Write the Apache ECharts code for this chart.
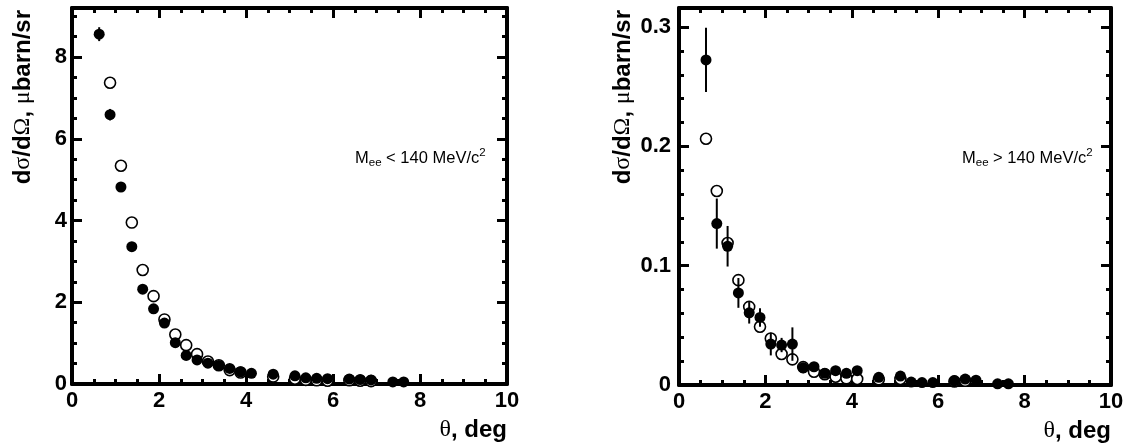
<!DOCTYPE html>
<html><head><meta charset="utf-8">
<script src="https://cdn.jsdelivr.net/npm/echarts@6/dist/echarts.min.js"></script>
<style>html,body{margin:0;padding:0;background:#fff}#c{width:1129px;height:446px}</style>
</head><body><div id="c"></div>
<script>
// ---------- data ----------
// Left panel: M_ee < 140 MeV/c^2   (y in microbarn/sr)
const leftFilledX   = [0.625,0.875,1.125,1.375,1.625,1.875,2.125,2.375,2.625,2.875,3.125,3.375,3.625,3.875,4.125,4.625,5.125,5.375,5.625,5.875,6.375,6.625,6.875,7.375,7.625];
const leftFilledY   = [8.56,6.59,4.82,3.36,2.32,1.84,1.49,1.01,0.70,0.59,0.51,0.45,0.38,0.30,0.26,0.24,0.20,0.15,0.14,0.13,0.12,0.11,0.10,0.05,0.05];
const leftFilledErr = [0.17,0.14,0.11,0.09,0.08,0.07,0.06,0.05,0.04,0.04,0.03,0.03,0.03,0.03,0.02,0.02,0.02,0.02,0.02,0.02,0.02,0.02,0.02,0.02,0.02];
const leftOpenX     = [0.875,1.125,1.375,1.625,1.875,2.125,2.375,2.625,2.875,3.125,3.375,3.625,3.875,4.625,5.125,5.375,5.625,5.875,6.375,6.625,6.875];
const leftOpenY     = [7.37,5.34,3.95,2.79,2.15,1.58,1.21,0.95,0.73,0.55,0.46,0.34,0.28,0.18,0.13,0.10,0.09,0.08,0.09,0.08,0.07];
// Right panel: M_ee > 140 MeV/c^2
const rightFilledX   = [0.625,0.875,1.125,1.375,1.625,1.875,2.125,2.375,2.625,2.875,3.125,3.375,3.625,3.875,4.125,4.625,5.125,5.375,5.625,5.875,6.375,6.625,6.875,7.375,7.625];
const rightFilledY   = [0.2725,0.1353,0.1163,0.0772,0.0605,0.0566,0.0343,0.0335,0.0343,0.0145,0.0153,0.0098,0.0120,0.0098,0.0120,0.0064,0.0075,0.0025,0.0020,0.0020,0.0035,0.0050,0.0040,0.0010,0.0010];
const rightFilledErr = [0.027,0.021,0.017,0.0125,0.009,0.0077,0.0095,0.006,0.014,0.004,0.004,0.003,0.004,0.003,0.003,0.002,0.002,0.002,0.002,0.002,0.002,0.002,0.002,0.001,0.001];
const rightOpenX     = [0.625,0.875,1.125,1.375,1.625,1.875,2.125,2.375,2.625,2.875,3.125,3.375,3.625,3.875,4.125,4.625,5.125,6.375,6.625];
const rightOpenY     = [0.2064,0.1626,0.1190,0.0879,0.0655,0.0488,0.0390,0.0260,0.0215,0.0150,0.0111,0.0090,0.0069,0.0056,0.0050,0.0047,0.0050,0.0030,0.0035];
// tick labels
const xTickLabels      = [0,2,4,6,8,10];
const leftYTickLabels  = [0,2,4,6,8];
const rightYTickLabels = [0,0.1,0.2,0.3];
const leftAnnotation  = ['M','ee',' < 140 MeV/c','2'];
const rightAnnotation = ['M','ee',' > 140 MeV/c','2'];

// ---------- chart ----------
const FONT = "'Liberation Sans', Arial, Helvetica, sans-serif";
const SERIF = "'Liberation Serif', 'DejaVu Serif', serif";
const zip2 = (a,b) => a.map((v,i)=>[v,b[i]]);
const zip3 = (a,b,c) => a.map((v,i)=>[v,b[i],c[i]]);
const richTitle = {
  b:{fontFamily:FONT,fontWeight:'bold',fontSize:24,color:'#000'},
  g:{fontFamily:SERIF,fontWeight:'normal',fontSize:24,color:'#000'}
};
const yTitle = '{b|d}{g|σ}{b|/d}{g|Ω}{b|, }{g|μ}{b|barn/sr}';
const xTitle = '{g|θ}{b|, deg}';

function fmt(list, dec){
  return function(v){
    for (const t of list) if (Math.abs(v-t) < 1e-9) return String(+t.toFixed(dec));
    return '';
  };
}
function xAx(grid, pos){
  const o = {
    type:'value', gridIndex:grid, position:pos, min:0, max:10, interval:2,
    axisLine:{show:true,onZero:false,lineStyle:{color:'#000',width:4}},
    axisTick:{show:true,inside:true,length:10,lineStyle:{color:'#000',width:3}},
    minorTick:{show:true,splitNumber:4,length:5,lineStyle:{color:'#000',width:3}},
    splitLine:{show:false}, minorSplitLine:{show:false},
    axisLabel:{show:pos==='bottom',margin:6,formatter:fmt(xTickLabels,0),
      fontFamily:FONT,fontWeight:'bold',fontSize:22,color:'#000'}
  };
  if (pos==='bottom'){
    o.name = xTitle; o.nameLocation='end'; o.nameGap=0; o.nameMoveOverlap=false;
    o.nameTextStyle = {align:'right',verticalAlign:'top',padding:[34,0,0,0],rich:richTitle};
  }
  return o;
}
function yAx(grid, pos, max, interval, major, labels, margin, titlePad){
  const o = {
    type:'value', gridIndex:grid, position:pos, min:0, max:max, interval:interval,
    axisLine:{show:major,onZero:false,lineStyle:{color:'#000',width:4}},
    axisTick:{show:true,inside:true,length:major?10:5,lineStyle:{color:'#000',width:3}},
    minorTick:{show:false}, splitLine:{show:false},
    axisLabel:{show:!!labels, margin:margin, formatter: labels?fmt(labels, 1):undefined,
      fontFamily:FONT,fontWeight:'bold',fontSize:22,color:'#000'}
  };
  if (titlePad){
    o.name = yTitle; o.nameLocation='end'; o.nameGap=-2; o.nameRotate=90; o.nameMoveOverlap=false;
    o.nameTextStyle = {align:'right',verticalAlign:'bottom',padding:[0,0,titlePad,0],rich:richTitle};
  }
  return o;
}
function errBars(xi, yi, data){
  return {
    type:'custom', xAxisIndex:xi, yAxisIndex:yi, data:data, z:3, clip:true,
    encode:{x:0,y:1},
    renderItem:function(params, api){
      const x=api.value(0), y=api.value(1), e=api.value(2);
      const p1=api.coord([x,y-e]), p2=api.coord([x,y+e]);
      return {type:'line', shape:{x1:p1[0],y1:p1[1],x2:p2[0],y2:p2[1]},
        style:{stroke:'#000',lineWidth:2}};
    }
  };
}
function openS(xi, yi, data){
  return {type:'scatter', xAxisIndex:xi, yAxisIndex:yi, data:data, z:2, symbol:'circle', symbolSize:11,
    itemStyle:{color:'#fff',borderColor:'#000',borderWidth:1.6,opacity:1}, silent:true};
}
function filledS(xi, yi, data){
  return {type:'scatter', xAxisIndex:xi, yAxisIndex:yi, data:data, z:4, symbol:'circle', symbolSize:11,
    itemStyle:{color:'#000',opacity:1}, silent:true};
}
function annotation(parts, left, top){
  return {type:'text', left:left, top:top, z:10, style:{
    text:'{n|'+parts[0]+'}{s|'+parts[1]+'}{n|'+parts[2]+'}{p|'+parts[3]+'}',
    rich:{
      n:{fontFamily:FONT,fontSize:16.5,color:'#000',lineHeight:22,verticalAlign:'middle'},
      s:{fontFamily:FONT,fontSize:11.5,color:'#000',lineHeight:22,verticalAlign:'bottom'},
      p:{fontFamily:FONT,fontSize:11.5,color:'#000',lineHeight:22,verticalAlign:'top'}
    }
  }};
}

const chart = echarts.init(document.getElementById('c'), null, {renderer:'canvas'});
chart.setOption({
  animation:false,
  backgroundColor:'#fff',
  grid:[
    {left:72, top:8, width:435, height:376, containLabel:false},
    {left:679, top:8, width:432, height:377, containLabel:false}
  ],
  xAxis:[ xAx(0,'bottom'), xAx(0,'top'), xAx(1,'bottom'), xAx(1,'top') ],
  yAxis:[
    yAx(0,'left', 9.2, 2,   true,  leftYTickLabels, 5, 37),
    yAx(0,'left', 9.2, 0.5, false, null, 0, 0),
    yAx(0,'right',9.2, 2,   true,  null, 0, 0),
    yAx(0,'right',9.2, 0.5, false, null, 0, 0),
    yAx(1,'left', 0.316, 0.1,  true,  rightYTickLabels, 8, 44),
    yAx(1,'left', 0.316, 0.02, false, null, 0, 0),
    yAx(1,'right',0.316, 0.1,  true,  null, 0, 0),
    yAx(1,'right',0.316, 0.02, false, null, 0, 0)
  ],
  series:[
    openS(0,0, zip2(leftOpenX,leftOpenY)),
    errBars(0,0, zip3(leftFilledX,leftFilledY,leftFilledErr)),
    filledS(0,0, zip2(leftFilledX,leftFilledY)),
    openS(2,4, zip2(rightOpenX,rightOpenY)),
    errBars(2,4, zip3(rightFilledX,rightFilledY,rightFilledErr)),
    filledS(2,4, zip2(rightFilledX,rightFilledY))
  ],
  graphic:[ annotation(leftAnnotation, 355, 147), annotation(rightAnnotation, 962, 147) ]
});
</script></body></html>
